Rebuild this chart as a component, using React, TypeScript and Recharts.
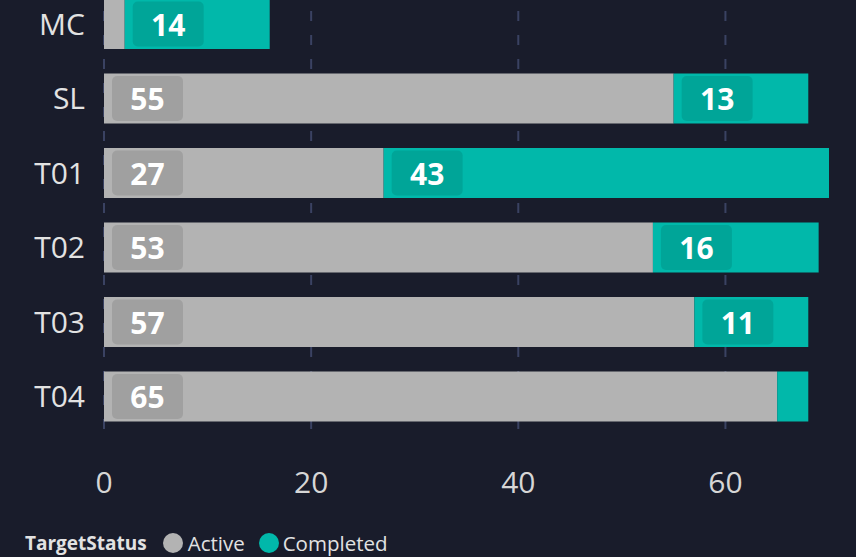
import React from "react";
import { BarChart, Bar, XAxis, YAxis, CartesianGrid, LabelList } from "recharts";

const categories = ["MC", "SL", "T01", "T02", "T03", "T04"];
const activeValues = [2, 55, 27, 53, 57, 65];
const completedValues = [14, 13, 43, 16, 11, 3];
const xTicks = [0, 20, 40, 60];

const data = categories.map((name, i) => ({
  name,
  Active: activeValues[i],
  Completed: completedValues[i],
}));

const FONT = '"Open Sans", "Noto Sans", sans-serif';

function SegmentLabel(props: any) {
  const { x, y, width, height, value } = props;
  if (width < 75) return null;
  const bw = 71;
  const bh = 45;
  const bx = x + 8;
  const by = y + (height - bh) / 2;
  return (
    <g>
      <rect x={bx} y={by} width={bw} height={bh} rx={5} fill="rgba(0,0,0,0.1)" />
      <text
        x={bx + bw / 2}
        y={by + bh / 2}
        textAnchor="middle"
        dominantBaseline="central"
        fill="#ffffff"
        fontSize={30}
        fontWeight={700}
        fontFamily={FONT}
      >
        {value}
      </text>
    </g>
  );
}

export default function App() {
  return (
    <div
      style={{
        position: "fixed",
        top: 0,
        left: 0,
        width: 856,
        height: 557,
        overflow: "hidden",
        background: "#191c2b",
        fontFamily: FONT,
      }}
    >
      <div style={{ position: "absolute", top: -13, left: 0 }}>
        <BarChart
          width={856}
          height={570}
          layout="vertical"
          data={data}
          margin={{ top: 0, right: 27, left: 0, bottom: 63 }}
        >
          <CartesianGrid
            horizontal={false}
            verticalValues={xTicks}
            strokeDasharray="10 14"
            stroke="#3a4262"
            strokeWidth={2}
          />
          <XAxis
            type="number"
            domain={[0, 70]}
            ticks={xTicks}
            axisLine={false}
            tickLine={false}
            tickSize={0}
            tickMargin={38}
            height={60}
            tick={{ fill: "#d6d6d6", fontSize: 30, fontFamily: FONT }}
          />
          <YAxis
            type="category"
            dataKey="name"
            width={104}
            axisLine={false}
            tickLine={false}
            tickSize={0}
            tickMargin={19}
            tick={{ fill: "#e2e2e2", fontSize: 30, fontFamily: FONT }}
          />
          <Bar dataKey="Active" stackId="s" fill="#b3b3b3" barSize={50} isAnimationActive={false}>
            <LabelList dataKey="Active" content={SegmentLabel} />
          </Bar>
          <Bar dataKey="Completed" stackId="s" fill="#01b8aa" barSize={50} isAnimationActive={false}>
            <LabelList dataKey="Completed" content={SegmentLabel} />
          </Bar>
        </BarChart>
      </div>
      <div
        style={{
          position: "absolute",
          left: 25,
          top: 531,
          height: 24,
          display: "flex",
          alignItems: "center",
          fontSize: 20.5,
          color: "#e2e2e2",
        }}
      >
        <span style={{ fontWeight: 700, fontSize: 19, marginRight: 16 }}>TargetStatus</span>
        <span style={{ width: 20, height: 20, borderRadius: 10, background: "#b3b3b3", marginRight: 5 }} />
        <span style={{ marginRight: 14 }}>Active</span>
        <span style={{ width: 20, height: 20, borderRadius: 10, background: "#01b8aa", marginRight: 4 }} />
        <span>Completed</span>
      </div>
    </div>
  );
}
